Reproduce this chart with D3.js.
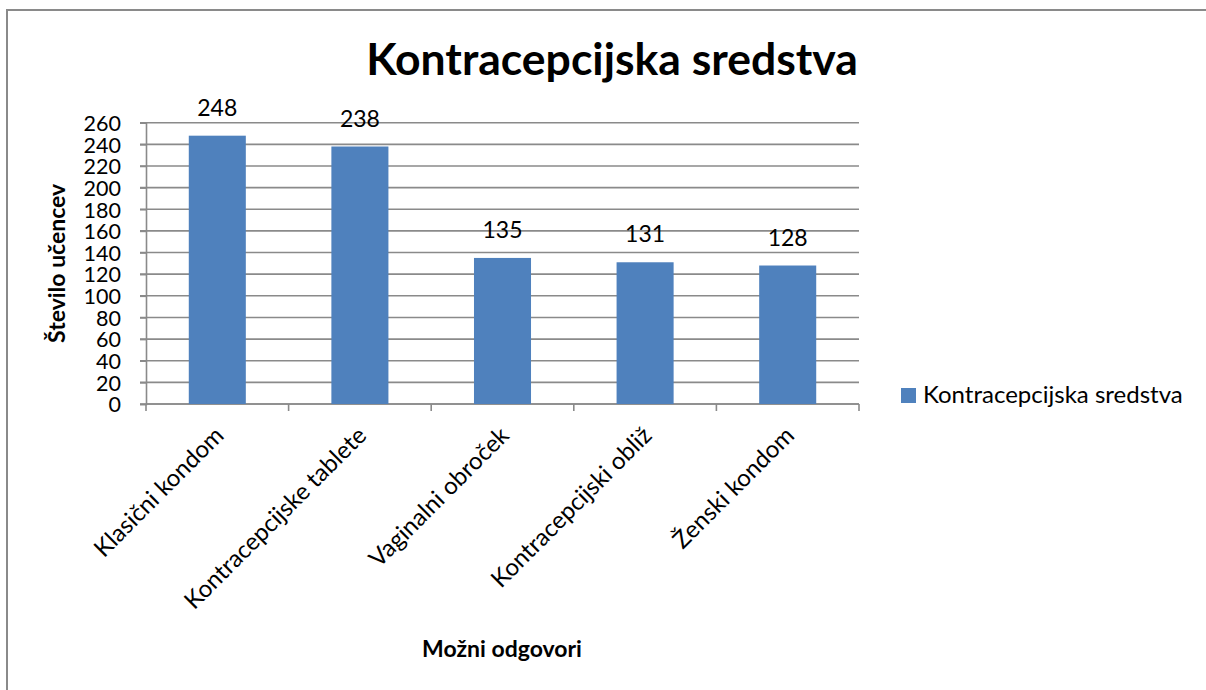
<!DOCTYPE html>
<html>
<head>
<meta charset="utf-8">
<script src="https://cdn.jsdelivr.net/npm/d3@7"></script>
<style>
  body { margin: 0; background: #fff; }
  svg text { font-family: Lato, "Open Sans", sans-serif; fill: #000; }
</style>
</head>
<body>
<div id="viz"></div>
<script>
var categories = ['Klasični kondom', 'Kontracepcijske tablete', 'Vaginalni obroček', 'Kontracepcijski obliž', 'Ženski kondom'];
var values = [248, 238, 135, 131, 128];
var yTicks = [0, 20, 40, 60, 80, 100, 120, 140, 160, 180, 200, 220, 240, 260];
var seriesName = 'Kontracepcijska sredstva';

var width = 1206, height = 690,
    margin = {top: 122.7, left: 146, right: 347, bottom: 286};

var svg = d3.select('#viz').append('svg')
    .attr('width', width)
    .attr('height', height);

// outer chart frame (runs past the right and bottom edges)
svg.append('rect')
  .attr('x', 7).attr('y', 10)
  .attr('width', 1300).attr('height', 800)
  .attr('fill', 'none')
  .attr('stroke', '#8a8a8a')
  .attr('stroke-width', 2);

var x = d3.scaleBand()
    .domain(categories)
    .range([margin.left, width - margin.right])
    .paddingInner(0.6)
    .paddingOuter(0.3);

var y = d3.scaleLinear()
    .domain([0, 260])
    .range([height - margin.bottom, margin.top]);

// gridlines
svg.append('g')
  .selectAll('line').data(yTicks)
  .enter().append('line')
    .attr('x1', margin.left - 6)
    .attr('x2', width - margin.right)
    .attr('y1', function(d) { return y(d); })
    .attr('y2', function(d) { return y(d); })
    .attr('stroke', '#8a8a8a')
    .attr('stroke-width', 1.6);

// y axis
var yAxis = svg.append('g')
  .attr('transform', 'translate(' + margin.left + ',0)')
  .call(d3.axisLeft(y).tickValues(yTicks).tickSize(6).tickPadding(19));
yAxis.select('.domain').attr('stroke', '#8a8a8a').attr('stroke-width', 1.6);
yAxis.selectAll('.tick line').attr('stroke', '#8a8a8a').attr('stroke-width', 1.6);
yAxis.selectAll('.tick text').style('font-size', '21.5px').attr('dy', '0.36em');

// x axis ticks between categories
var step = x.step();
var xTickPos = d3.range(categories.length + 1).map(function(i) { return margin.left + i * step; });
svg.append('g')
  .selectAll('line').data(xTickPos)
  .enter().append('line')
    .attr('x1', function(d) { return d; })
    .attr('x2', function(d) { return d; })
    .attr('y1', y(0))
    .attr('y2', y(0) + 7)
    .attr('stroke', '#8a8a8a')
    .attr('stroke-width', 1.6);
svg.append('line')
  .attr('x1', margin.left).attr('x2', width - margin.right)
  .attr('y1', y(0)).attr('y2', y(0))
  .attr('stroke', '#8a8a8a').attr('stroke-width', 1.6);

// bars
svg.append('g')
  .selectAll('rect').data(values)
  .enter().append('rect')
    .attr('x', function(d, i) { return x(categories[i]); })
    .attr('y', function(d) { return y(d); })
    .attr('width', x.bandwidth())
    .attr('height', function(d) { return y(0) - y(d); })
    .attr('fill', '#4f81bd');

// data labels
svg.append('g')
  .selectAll('text').data(values)
  .enter().append('text')
    .attr('x', function(d, i) { return x(categories[i]) + x.bandwidth() / 2; })
    .attr('y', function(d) { return y(d) - 20; })
    .attr('text-anchor', 'middle')
    .style('font-size', '23px')
    .text(function(d) { return d; });

// category labels
svg.append('g')
  .selectAll('text').data(categories)
  .enter().append('text')
    .attr('transform', function(d) {
      var cx = x(d) + x.bandwidth() / 2 + 8;
      return 'translate(' + cx + ',' + (y(0) + 33) + ') rotate(-45)';
    })
    .attr('text-anchor', 'end')
    .style('font-size', '24px')
    .text(function(d) { return d; });

// title
svg.append('text')
  .attr('x', 612).attr('y', 75)
  .attr('text-anchor', 'middle')
  .style('font-size', '44.5px')
  .style('font-weight', 'bold')
  .text('Kontracepcijska sredstva');

// axis titles
svg.append('text')
  .attr('transform', 'translate(65,' + ((y(0) + y(260)) / 2) + ') rotate(-90)')
  .attr('text-anchor', 'middle')
  .style('font-size', '23px')
  .style('font-weight', 'bold')
  .text('Število učencev');

svg.append('text')
  .attr('x', 502).attr('y', 657)
  .attr('text-anchor', 'middle')
  .style('font-size', '23px')
  .style('font-weight', 'bold')
  .text('Možni odgovori');

// legend
var legend = svg.append('g').attr('transform', 'translate(901,388)');
legend.append('rect')
  .attr('width', 15).attr('height', 15)
  .attr('fill', '#4f81bd');
legend.append('text')
  .attr('x', 22).attr('y', 15)
  .style('font-size', '24px')
  .text(seriesName);
</script>
</body>
</html>
